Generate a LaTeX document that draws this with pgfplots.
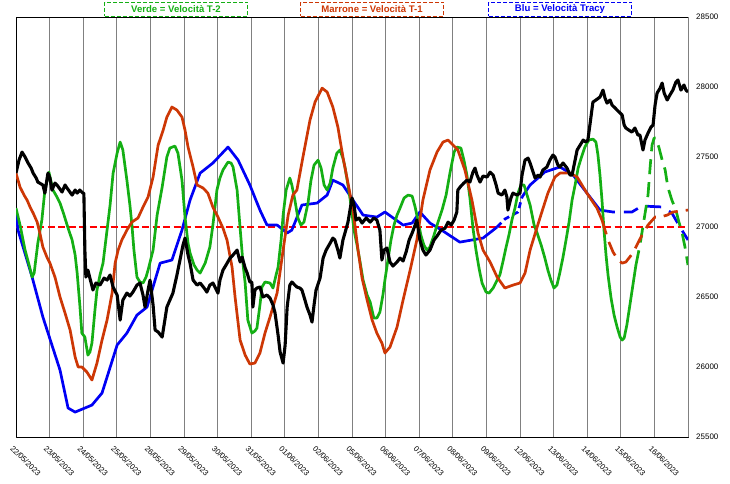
\documentclass[border=0pt]{standalone}
\usepackage{fontspec}
\setmainfont{Liberation Sans}
\usepackage{pgfplots}
\pgfplotsset{compat=1.18}
\definecolor{cgreen}{RGB}{20,175,20}
\definecolor{cbrown}{RGB}{205,55,5}
\definecolor{cblue}{RGB}{0,0,245}
\definecolor{cgrid}{RGB}{128,128,128}
\begin{document}
\begin{tikzpicture}
\begin{axis}[name=ax,
  width=672bp, height=420bp, scale only axis,
  xmin=0, xmax=20, ymin=25500, ymax=28500,
  xtick={0,...,19},
  xticklabels={22/05/2023,23/05/2023,24/05/2023,25/05/2023,26/05/2023,29/05/2023,30/05/2023,31/05/2023,01/06/2023,02/06/2023,05/06/2023,06/06/2023,07/06/2023,08/06/2023,09/06/2023,12/06/2023,13/06/2023,14/06/2023,15/06/2023,16/06/2023},
  extra x ticks={20}, extra x tick labels={},
  ytick={25500,26000,...,28500},
  yticklabel pos=right,
  scaled y ticks=false,
  major tick length=0pt,
  xmajorgrids,
  grid style={cgrid, line width=0.7bp},
  axis line style={black, line width=0.9bp},
  /pgf/number format/assume math mode=true,
  /pgf/number format/1000 sep={},
  yticklabel style={font=\fontsize{8}{9}\selectfont, anchor=west, inner sep=0pt, xshift=8bp},
  xticklabel style={font=\fontsize{7.8}{9}\selectfont, rotate=-45, anchor=north west, inner sep=0pt, yshift=-7bp, xshift=4bp},
  line join=round,
]
% red reference line
\addplot[red, line width=1.8bp, dash pattern=on 7bp off 3.5bp] coordinates {(0,27000) (20,27000)};

% blue (Velocita Tracy)
\addplot[cblue, line width=2.7bp] coordinates {
(0,27100) (0.06,26978) (0.48,26642) (0.80,26357) (1.31,25978) (1.55,25707) (1.76,25678) (2.26,25728) (2.56,25814) (2.71,25928) (3.01,26157) (3.30,26242) (3.60,26371) (3.90,26428) (4.29,26742) (4.64,26764) (4.94,26978) (5.18,27192) (5.48,27385) (5.86,27457) (6.31,27571) (6.61,27478) (6.96,27300) (7.26,27121) (7.47,27014) (7.77,27014) (8.07,26957) (8.21,26978) (8.51,27157) (8.96,27171) (9.26,27228) (9.43,27335) (9.73,27300) (10.03,27192) (10.33,27085) (10.74,27071) (10.98,27107) (11.52,27014) (11.79,27028) (12.02,27107) (12.32,27028) (12.62,26985) (13.21,26892) (13.90,26921) (14.32,27000)};
\addplot[cblue, line width=2.7bp, dash pattern=on 6bp off 4bp] coordinates {
(14.32,27000) (14.55,27057) (14.94,27107) (15.06,27214)};
\addplot[cblue, line width=2.7bp] coordinates {
(15.06,27214) (15.30,27300) (15.74,27393) (16.19,27429) (16.58,27371) (16.99,27243) (17.38,27121)};
\addplot[cblue, line width=2.7bp, dash pattern=on 15bp off 9bp] coordinates {
(17.38,27121) (17.77,27107) (18.33,27107) (18.63,27150) (19.23,27143) (19.52,27100) (19.76,27000) (20,26907)};

% green (Velocita T-2)
\addplot[cgreen, line width=2.7bp] coordinates {
(0,27135) (0.12,27014) (0.27,26835) (0.39,26728) (0.48,26642) (0.54,26671) (0.65,26885) (0.77,27050) (0.86,27264) (0.98,27392) (1.10,27264) (1.22,27214) (1.31,27171) (1.43,27085) (1.55,26992) (1.67,26907) (1.76,26800) (1.82,26671) (1.90,26442) (1.96,26242) (2.05,26214) (2.14,26085) (2.20,26107) (2.26,26171) (2.35,26407) (2.41,26550) (2.50,26657) (2.59,26742) (2.71,26978) (2.80,27157) (2.89,27385) (3.01,27528) (3.10,27607) (3.18,27550) (3.30,27335) (3.39,27157) (3.45,27014) (3.51,26835) (3.60,26642) (3.69,26607) (3.78,26600) (3.87,26642) (3.93,26692) (4.02,26778) (4.08,26835) (4.20,27085) (4.35,27285) (4.49,27500) (4.58,27564) (4.73,27578) (4.82,27528) (4.94,27335) (5.03,27071) (5.12,26885) (5.18,26814) (5.30,26728) (5.39,26692) (5.48,26671) (5.63,26742) (5.77,26857) (5.86,27014) (5.98,27264) (6.07,27350) (6.16,27407) (6.31,27464) (6.40,27457) (6.46,27428) (6.58,27264) (6.67,26992) (6.76,26728) (6.82,26600) (6.90,26335) (7.02,26242) (7.11,26257) (7.17,26278) (7.26,26442) (7.32,26571) (7.41,26607) (7.56,26600) (7.65,26564) (7.74,26657) (7.80,26714) (7.89,26907) (7.95,27085) (8.04,27264) (8.15,27350) (8.21,27300) (8.30,27192) (8.39,27064) (8.48,27014) (8.57,27035) (8.69,27171) (8.78,27335) (8.87,27442) (8.99,27478) (9.08,27421) (9.17,27300) (9.26,27264) (9.35,27314) (9.43,27421) (9.55,27528) (9.64,27550) (9.73,27492) (9.79,27428) (9.88,27300) (9.97,27157) (10.06,26978) (10.15,26871) (10.24,26750) (10.33,26621) (10.45,26514) (10.54,26464) (10.65,26350) (10.74,26350) (10.83,26392) (10.92,26514) (10.98,26621) (11.07,26764) (11.16,26907) (11.25,27014) (11.34,27085) (11.43,27135) (11.55,27207) (11.67,27228) (11.79,27221) (11.88,27142) (11.96,27050) (12.05,26942) (12.14,26871) (12.23,26835) (12.32,26857) (12.44,26942) (12.56,27035) (12.68,27121) (12.80,27228) (12.92,27392) (13.04,27535) (13.12,27571) (13.24,27564) (13.33,27478) (13.42,27371) (13.51,27207) (13.60,26992) (13.69,26835) (13.78,26707) (13.87,26600) (13.99,26535) (14.08,26528) (14.20,26564) (14.32,26621) (14.40,26657) (14.49,26750) (14.58,26850) (14.67,26942) (14.76,27050) (14.85,27135) (14.94,27242) (15.03,27300) (15.12,27300) (15.21,27228) (15.30,27157) (15.42,27014) (15.51,26957) (15.63,26871) (15.74,26778) (15.83,26692) (15.92,26621) (16.01,26564) (16.10,26585) (16.19,26678) (16.28,26785) (16.37,26907) (16.46,27035) (16.55,27192) (16.64,27300) (16.73,27421) (16.82,27492) (16.93,27571) (17.05,27621) (17.17,27628) (17.26,27607) (17.32,27514) (17.38,27371) (17.44,27192) (17.50,26978) (17.56,26800) (17.62,26657) (17.71,26492) (17.80,26371) (17.89,26285) (17.98,26214) (18.04,26192) (18.10,26207) (18.18,26300) (18.27,26442) (18.36,26585) (18.45,26728)};
\addplot[cgreen, line width=2.7bp, dash pattern=on 15bp off 8bp] coordinates {
(18.45,26728) (18.57,26871) (18.69,27050) (18.81,27228) (18.87,27421) (18.93,27585) (18.99,27635) (19.05,27635) (19.14,27564) (19.23,27478) (19.32,27407) (19.40,27285) (19.52,27192) (19.64,27121) (19.73,27035) (19.82,26964) (19.91,26857) (20,26728)};

% brown (Velocita T-1)
\addplot[cbrown, line width=2.7bp] coordinates {
(0,27385) (0.12,27285) (0.24,27228) (0.33,27192) (0.42,27142) (0.51,27100) (0.63,27035) (0.71,26957) (0.80,26857) (0.92,26785) (1.01,26742) (1.16,26642) (1.31,26500) (1.46,26385) (1.61,26264) (1.76,26071) (1.85,26000) (1.96,26000) (2.11,25964) (2.26,25907) (2.41,26028) (2.56,26192) (2.71,26335) (2.86,26528) (2.95,26742) (3.04,26835) (3.15,26907) (3.30,26978) (3.45,27035) (3.63,27064) (3.78,27142) (3.93,27214) (4.08,27357) (4.23,27585) (4.38,27692) (4.49,27785) (4.64,27857) (4.79,27835) (4.94,27785) (5.03,27692) (5.12,27571) (5.27,27428) (5.39,27300) (5.57,27278) (5.71,27242) (5.86,27142) (6.01,27071) (6.16,26992) (6.28,26907) (6.43,26714) (6.52,26500) (6.67,26192) (6.82,26085) (6.96,26021) (7.11,26028) (7.26,26100) (7.41,26242) (7.56,26357) (7.77,26528) (7.95,26835) (8.10,27085) (8.24,27228) (8.36,27264) (8.54,27500) (8.75,27764) (8.90,27892) (9.11,27992) (9.26,27964) (9.43,27857) (9.58,27714) (9.73,27500) (9.88,27314) (10.03,27121) (10.18,26835) (10.30,26635) (10.45,26478) (10.60,26335) (10.74,26242) (10.89,26171) (10.98,26100) (11.13,26142) (11.34,26285) (11.52,26478) (11.73,26692) (11.93,26907) (12.11,27192) (12.32,27407) (12.53,27535) (12.71,27607) (12.86,27621) (13.01,27585) (13.15,27550) (13.36,27407) (13.57,27192) (13.75,26957) (13.90,26835) (14.11,26750) (14.32,26642) (14.55,26564) (14.79,26585) (15.00,26600) (15.15,26671) (15.30,26835) (15.51,27000) (15.65,27107) (15.83,27242) (16.04,27357) (16.19,27385) (16.49,27385) (16.70,27357) (16.99,27242) (17.29,27135) (17.44,27050)};
\addplot[cbrown, line width=2.7bp, dash pattern=on 15bp off 8bp] coordinates {
(17.44,27050) (17.62,26907) (17.77,26821) (17.92,26764) (18.04,26742) (18.15,26750) (18.36,26814) (18.63,26942) (18.81,27014) (19.02,27071) (19.17,27071) (19.38,27085) (19.55,27107) (19.76,27114) (20,27121)};

% black (price)
\addplot[black, line width=3.1bp] coordinates {
(0,27385) (0.09,27478) (0.18,27535) (0.27,27500) (0.36,27457) (0.45,27421) (0.51,27385) (0.60,27350) (0.65,27321) (0.80,27300) (0.86,27242) (0.95,27385) (1.01,27350) (1.07,27264) (1.16,27314) (1.22,27300) (1.37,27250) (1.46,27300) (1.52,27278) (1.67,27228) (1.76,27264) (1.82,27242) (1.90,27264) (1.99,27242) (2.02,27242) (2.05,26835) (2.08,26642) (2.14,26692) (2.20,26635) (2.29,26550) (2.38,26600) (2.50,26585) (2.62,26635) (2.71,26621) (2.80,26657) (2.89,26571) (3.01,26514) (3.10,26335) (3.18,26478) (3.30,26528) (3.39,26507) (3.48,26535) (3.60,26585) (3.69,26600) (3.78,26514) (3.84,26428) (3.93,26550) (3.99,26621) (4.08,26442) (4.14,26264) (4.23,26250) (4.35,26214) (4.43,26335) (4.49,26428) (4.58,26478) (4.67,26528) (4.79,26657) (4.88,26764) (4.97,26871) (5.03,26921) (5.12,26800) (5.18,26742) (5.27,26621) (5.39,26585) (5.48,26600) (5.60,26564) (5.68,26535) (5.77,26585) (5.86,26600) (6.01,26528) (6.07,26621) (6.16,26692) (6.25,26728) (6.37,26778) (6.46,26800) (6.58,26835) (6.67,26750) (6.73,26785) (6.82,26707) (6.88,26671) (6.96,26607) (7.02,26607) (7.05,26428) (7.11,26550) (7.17,26564) (7.26,26571) (7.35,26500) (7.47,26514) (7.56,26492) (7.65,26442) (7.71,26385) (7.80,26228) (7.86,26107) (7.95,26028) (8.01,26157) (8.07,26428) (8.15,26585) (8.21,26607) (8.30,26585) (8.36,26571) (8.45,26564) (8.51,26550) (8.60,26478) (8.66,26428) (8.75,26371) (8.81,26321) (8.87,26442) (8.93,26550) (9.05,26635) (9.14,26778) (9.23,26835) (9.35,26885) (9.43,26921) (9.49,26907) (9.58,26835) (9.64,26778) (9.73,26907) (9.79,26957) (9.88,27035) (9.94,27121) (10.00,27207) (10.06,27157) (10.12,27050) (10.21,27064) (10.30,27028) (10.42,27064) (10.54,27035) (10.65,27064) (10.74,27050) (10.83,26978) (10.89,26764) (10.95,26835) (11.04,26850) (11.13,26750) (11.22,26721) (11.34,26750) (11.43,26778) (11.52,26757) (11.61,26821) (11.70,26907) (11.79,26957) (11.88,27014) (11.93,27050) (12.02,26907) (12.11,26835) (12.20,26800) (12.32,26835) (12.44,26907) (12.53,26935) (12.65,26978) (12.77,26992) (12.86,27035) (12.95,27014) (13.04,27050) (13.12,27107) (13.15,27264) (13.24,27292) (13.33,27314) (13.42,27335) (13.51,27321) (13.60,27392) (13.66,27421) (13.72,27371) (13.81,27321) (13.90,27364) (14.02,27357) (14.11,27392) (14.20,27371) (14.29,27300) (14.35,27242) (14.46,27228) (14.55,27264) (14.61,27214) (14.64,27121) (14.73,27207) (14.79,27242) (14.91,27228) (15.00,27242) (15.06,27371) (15.15,27478) (15.24,27492) (15.30,27457) (15.39,27392) (15.45,27350) (15.54,27371) (15.60,27357) (15.68,27407) (15.80,27428) (15.89,27478) (15.98,27514) (16.04,27500) (16.13,27442) (16.19,27428) (16.28,27457) (16.40,27421) (16.49,27371) (16.55,27371) (16.64,27478) (16.70,27550) (16.79,27585) (16.88,27621) (16.96,27607) (17.02,27621) (17.08,27728) (17.17,27892) (17.26,27907) (17.38,27928) (17.47,27978) (17.53,27921) (17.59,27885) (17.68,27907) (17.74,27871) (17.83,27850) (17.89,27835) (17.98,27814) (18.04,27800) (18.10,27728) (18.15,27707) (18.24,27692) (18.33,27678) (18.42,27707) (18.51,27657) (18.57,27657) (18.66,27550) (18.72,27621) (18.81,27671) (18.90,27714) (18.96,27728) (19.02,27871) (19.08,27957) (19.17,27992) (19.23,28028) (19.29,27957) (19.38,27907) (19.46,27942) (19.55,27978) (19.64,28035) (19.70,28050) (19.79,27978) (19.88,28014) (19.94,27978) (20,27964)};
\end{axis}
\tikzset{lbox/.style={draw, line width=0.8bp, dash pattern=on 4bp off 2bp, font=\bfseries\fontsize{9.6}{11}\selectfont, minimum width=143bp, minimum height=14bp, inner sep=0pt}}
\node[lbox, draw=cgreen, text=cgreen] at ([shift={(160bp,8bp)}]ax.north west) {Verde = Velocità T-2};
\node[lbox, draw=cbrown, text=cbrown] at ([shift={(356bp,8bp)}]ax.north west) {Marrone = Velocità T-1};
\node[lbox, draw=cblue, text=cblue] at ([shift={(544bp,8bp)}]ax.north west) {Blu = Velocità Tracy};
\pgfresetboundingbox
\path[use as bounding box] ([shift={(-16bp,-47bp)}]ax.south west) rectangle ([shift={(42bp,17bp)}]ax.north east);
\end{tikzpicture}
\end{document}
